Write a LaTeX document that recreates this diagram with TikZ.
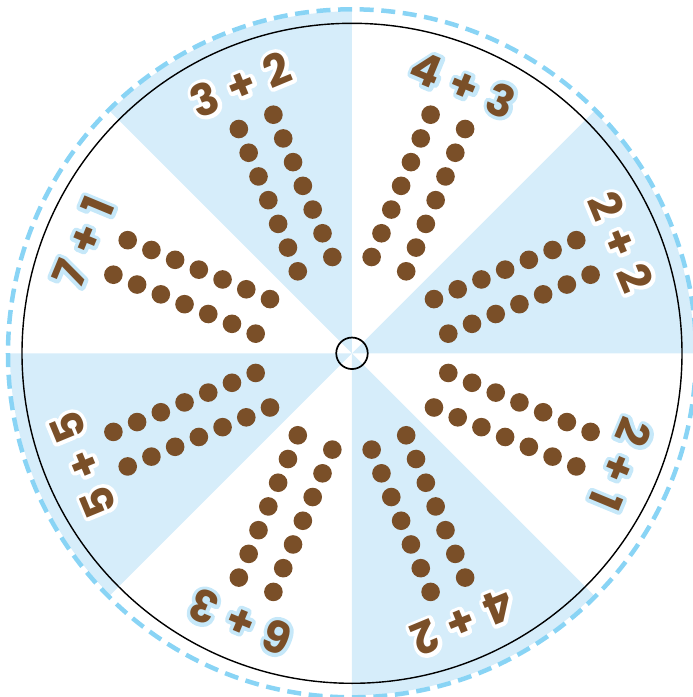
\documentclass[tikz,border=0pt]{standalone}
\usepackage{fontspec}
\newfontfamily\lblfont{Poppins}
\newfontfamily\halofont{Poppins}[BoldFeatures={FakeBold=17}]
\definecolor{sectorblue}{HTML}{D6EDFA}
\definecolor{dashblue}{HTML}{89D4F5}
\definecolor{beadbrown}{HTML}{7A4F28}
\definecolor{haloblue}{HTML}{C6E8F9}
\newlength\lblgap
\newcommand\haloed[2]{%
  \leavevmode\setlength\lblgap{.28em}\spaceskip=\lblgap
  \rlap{\special{pdf:literal direct 1 j}\halofont\bfseries\fontsize{44}{44}\selectfont\color{#1}#2}%
  #2}
\begin{document}
\begin{tikzpicture}[
  bead/.style={fill=beadbrown},
  lbl/.style={font=\lblfont\bfseries\fontsize{44}{44}\selectfont, text=beadbrown, inner sep=0pt, anchor=center},
  hubstyle/.style={circle, draw=black, line width=1.7pt, minimum size=31.5pt, inner sep=0pt},
  sector/.style={fill=sectorblue},
  rim/.style={draw=black, line width=1.4pt},
  dashrim/.style={draw=dashblue, line width=4.5pt, dash pattern=on 14pt off 7.614pt}
]
\useasboundingbox (-352pt,-343.7pt) rectangle (341pt,353.3pt);
\foreach \s in {0,90,180,270}{
  \fill[sector] (0pt,0pt) -- (\s:342pt) arc[start angle=\s, end angle=\s+45, radius=342pt] -- cycle;
}
\draw[dashrim] (0pt,0pt) circle[radius=344pt];
\draw[rim] (0pt,0pt) circle[radius=330pt];
\node[hubstyle] (hub) at (0pt,0pt) {};
\foreach \c in {22.5,67.5,...,337.5}{
  \begin{scope}[rotate=\c]
    \foreach \j in {0,...,6}{
      \fill[bead] (96.5pt+\j*25.67pt, 18.7pt) circle[radius=9.3pt];
      \fill[bead] (96.5pt+\j*25.67pt, -18.7pt) circle[radius=9.3pt];
    }
  \end{scope}
}
\node[lbl, rotate=-67.5] (l1) at (22.5:291pt) {\haloed{white}{2 + 2}};
\node[lbl, rotate=-22.5] (l2) at (67.5:291pt) {\haloed{haloblue}{4 + 3}};
\node[lbl, rotate=22.5] (l3) at (112.5:291pt) {\haloed{white}{3 + 2}};
\node[lbl, rotate=67.5] (l4) at (157.5:291pt) {\haloed{haloblue}{7 + 1}};
\node[lbl, rotate=112.5] (l5) at (202.5:291pt) {\haloed{white}{5 + 5}};
\node[lbl, rotate=157.5] (l6) at (247.5:291pt) {\haloed{haloblue}{6 + 3}};
\node[lbl, rotate=202.5] (l7) at (292.5:291pt) {\haloed{white}{4 + 2}};
\node[lbl, rotate=247.5] (l8) at (337.5:291pt) {\haloed{haloblue}{2 + 1}};
\end{tikzpicture}
\end{document}
